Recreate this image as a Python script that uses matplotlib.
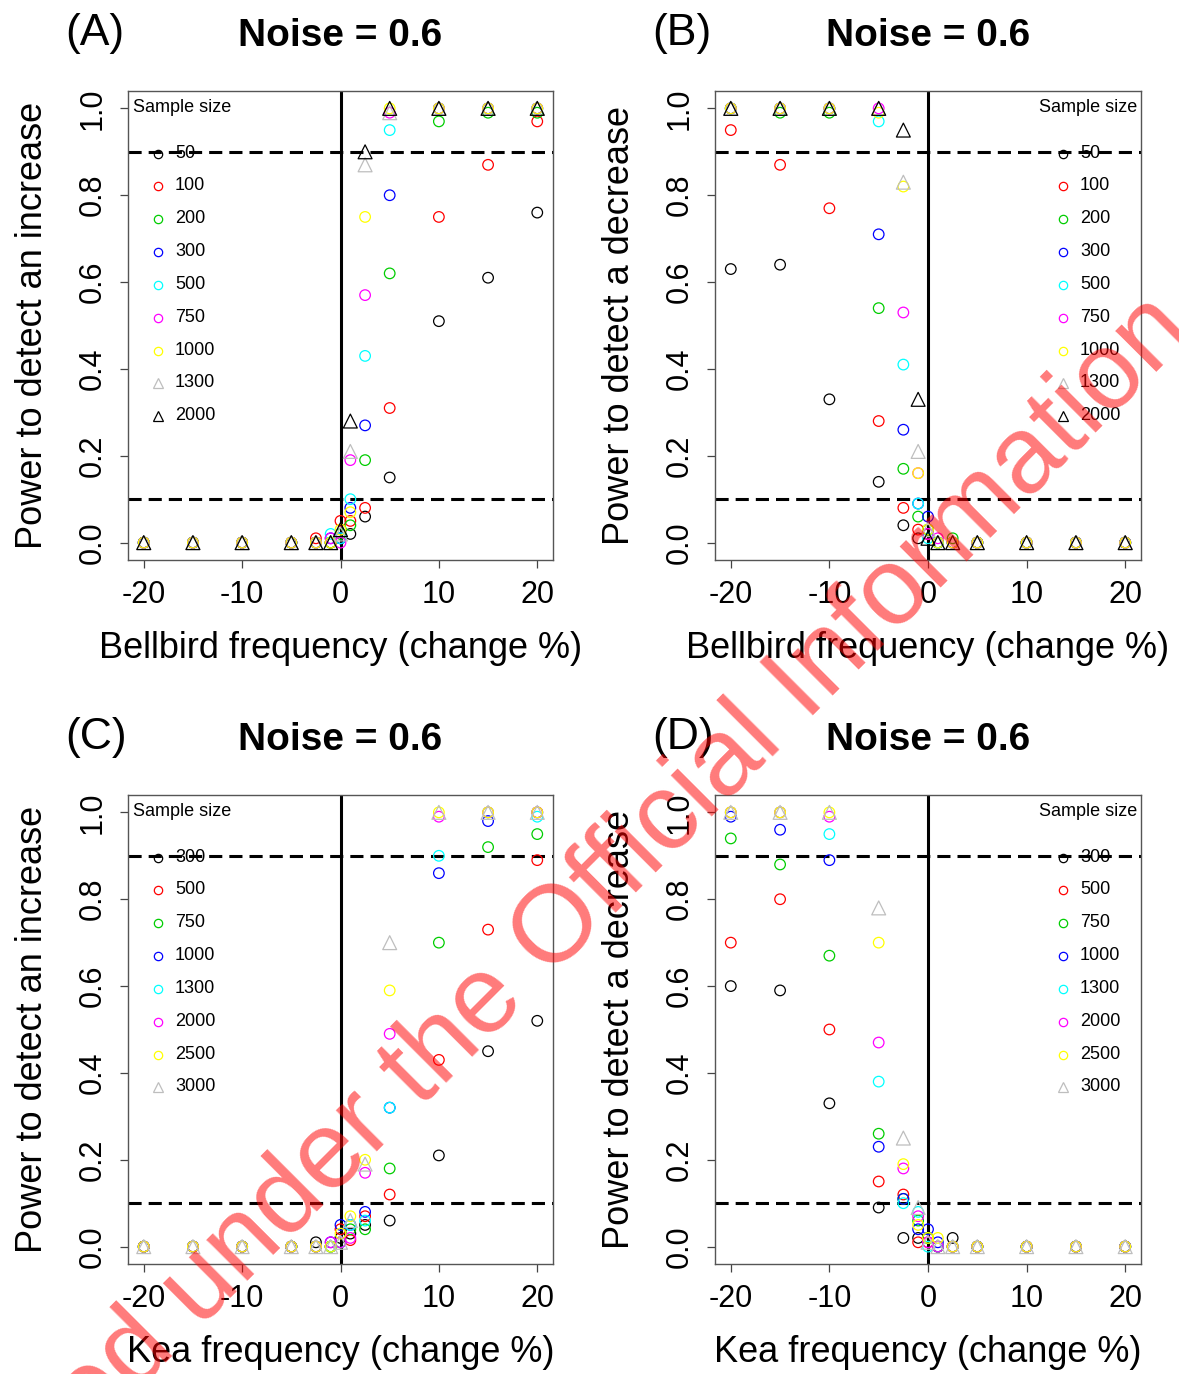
import matplotlib
matplotlib.use("Agg")
import matplotlib.pyplot as plt
from matplotlib.lines import Line2D

plt.rcParams['font.family'] = ['Liberation Sans', 'DejaVu Sans']

# ---------------- data ----------------
x_change = [-20, -15, -10, -5, -2.5, -1, 0, 1, 2.5, 5, 10, 15, 20]

bell_sizes = ["50", "100", "200", "300", "500", "750", "1000", "1300", "2000"]
kea_sizes = ["300", "500", "750", "1000", "1300", "2000", "2500", "3000"]

# Panel A: Bellbird, power to detect an increase
bell_inc = {
    "50":   [0, 0, 0, 0, 0, 0, 0.01, 0.02, 0.06, 0.15, 0.51, 0.61, 0.76],
    "100":  [0, 0, 0, 0, 0.01, 0, 0.05, 0.05, 0.08, 0.31, 0.75, 0.87, 0.97],
    "200":  [0, 0, 0, 0, 0, 0, 0.02, 0.04, 0.19, 0.62, 0.97, 0.99, 0.99],
    "300":  [0, 0, 0, 0, 0, 0.01, 0.01, 0.08, 0.27, 0.80, 1, 1, 1],
    "500":  [0, 0, 0, 0, 0, 0.02, 0.01, 0.10, 0.43, 0.95, 1, 1, 1],
    "750":  [0, 0, 0, 0, 0, 0.01, 0.0, 0.19, 0.57, 0.99, 1, 1, 1],
    "1000": [0, 0, 0, 0, 0, 0, 0.03, 0.07, 0.75, 1, 1, 1, 1],
    "1300": [0, 0, 0, 0, 0, 0, 0.02, 0.21, 0.87, 0.99, 1, 1, 1],
    "2000": [0, 0, 0, 0, 0, 0, 0.03, 0.28, 0.90, 1, 1, 1, 1],
}

# Panel B: Bellbird, power to detect a decrease
bell_dec = {
    "50":   [0.63, 0.64, 0.33, 0.14, 0.04, 0.01, 0.02, 0, 0, 0, 0, 0, 0],
    "100":  [0.95, 0.87, 0.77, 0.28, 0.08, 0.03, 0.02, 0, 0, 0, 0, 0, 0],
    "200":  [1, 0.99, 0.99, 0.54, 0.17, 0.06, 0.03, 0, 0.01, 0, 0, 0, 0],
    "300":  [1, 1, 1, 0.71, 0.26, 0.09, 0.06, 0, 0, 0, 0, 0, 0],
    "500":  [1, 1, 1, 0.97, 0.41, 0.09, 0.01, 0, 0, 0, 0, 0, 0],
    "750":  [1, 1, 1, 1, 0.53, 0.16, 0.02, 0.01, 0, 0, 0, 0, 0],
    "1000": [1, 1, 1, 0.99, 0.82, 0.16, 0.03, 0, 0, 0, 0, 0, 0],
    "1300": [1, 1, 1, 1, 0.83, 0.21, 0.03, 0, 0, 0, 0, 0, 0],
    "2000": [1, 1, 1, 1, 0.95, 0.33, 0.01, 0, 0, 0, 0, 0, 0],
}

# Panel C: Kea, power to detect an increase
kea_inc = {
    "300":  [0, 0, 0, 0, 0.01, 0, 0.02, 0.03, 0.05, 0.06, 0.21, 0.45, 0.52],
    "500":  [0, 0, 0, 0, 0, 0, 0.04, 0.015, 0.07, 0.12, 0.43, 0.73, 0.89],
    "750":  [0, 0, 0, 0, 0, 0, 0.01, 0.04, 0.04, 0.18, 0.70, 0.92, 0.95],
    "1000": [0, 0, 0, 0, 0, 0.01, 0.05, 0.05, 0.08, 0.32, 0.86, 0.98, 1],
    "1300": [0, 0, 0, 0, 0, 0, 0.01, 0.05, 0.06, 0.32, 0.90, 1, 0.99],
    "2000": [0, 0, 0, 0, 0, 0.01, 0.01, 0.02, 0.17, 0.49, 0.99, 1, 1],
    "2500": [0, 0, 0, 0, 0, 0, 0.03, 0.07, 0.20, 0.59, 1, 1, 1],
    "3000": [0, 0, 0, 0, 0, 0, 0.01, 0.06, 0.19, 0.70, 1, 1, 1],
}

# Panel D: Kea, power to detect a decrease
kea_dec = {
    "300":  [0.60, 0.59, 0.33, 0.09, 0.02, 0.02, 0.02, 0, 0.02, 0, 0, 0, 0],
    "500":  [0.70, 0.80, 0.50, 0.15, 0.12, 0.01, 0.01, 0, 0, 0, 0, 0, 0],
    "750":  [0.94, 0.88, 0.67, 0.26, 0.11, 0.06, 0.02, 0, 0, 0, 0, 0, 0],
    "1000": [0.99, 0.96, 0.89, 0.23, 0.11, 0.04, 0.04, 0.01, 0, 0, 0, 0, 0],
    "1300": [1, 1, 0.95, 0.38, 0.10, 0.08, 0.0, 0, 0, 0, 0, 0, 0],
    "2000": [1, 1, 0.99, 0.47, 0.18, 0.07, 0.01, 0.0, 0, 0, 0, 0, 0],
    "2500": [1, 1, 1, 0.70, 0.19, 0.05, 0.02, 0.02, 0, 0, 0, 0, 0],
    "3000": [1, 1, 1, 0.78, 0.25, 0.09, 0.01, 0, 0, 0, 0, 0, 0],
}

thresholds = [0.1, 0.9]
x_ticks = [-20, -10, 0, 10, 20]
y_ticks = [0.0, 0.2, 0.4, 0.6, 0.8, 1.0]
y_ticklabels = ["0.0", "0.2", "0.4", "0.6", "0.8", "1.0"]

# ---------------- styles ----------------
bell_colors = ["black", "#FF0000", "#00CD00", "#0000FF", "#00FFFF", "#FF00FF",
               "#FFFF00", "#BEBEBE", "black"]
bell_markers = ["o"] * 7 + ["^", "^"]
kea_colors = ["black", "#FF0000", "#00CD00", "#0000FF", "#00FFFF", "#FF00FF",
              "#FFFF00", "#BEBEBE"]
kea_markers = ["o"] * 7 + ["^"]

W, H = 1179, 1374
fig = plt.figure(figsize=(W / 100, H / 100), dpi=100)


def ax_rect(left, top, width=425, height=469):
    return [left / W, 1 - (top + height) / H, width / W, height / H]


panels = [
    dict(rect=ax_rect(128, 91), data=bell_inc, sizes=bell_sizes, colors=bell_colors,
         markers=bell_markers, tag="(A)", xlabel="Bellbird frequency (change %)",
         ylabel="Power to detect an increase", legend_side="left"),
    dict(rect=ax_rect(715, 91, 426), data=bell_dec, sizes=bell_sizes, colors=bell_colors,
         markers=bell_markers, tag="(B)", xlabel="Bellbird frequency (change %)",
         ylabel="Power to detect a decrease", legend_side="right"),
    dict(rect=ax_rect(128, 795), data=kea_inc, sizes=kea_sizes, colors=kea_colors,
         markers=kea_markers, tag="(C)", xlabel="Kea frequency (change %)",
         ylabel="Power to detect an increase", legend_side="left"),
    dict(rect=ax_rect(715, 795, 426), data=kea_dec, sizes=kea_sizes, colors=kea_colors,
         markers=kea_markers, tag="(D)", xlabel="Kea frequency (change %)",
         ylabel="Power to detect a decrease", legend_side="right"),
]

for p in panels:
    ax = fig.add_axes(p["rect"])
    ax.set_xlim(-21.6, 21.6)
    ax.set_ylim(-0.04, 1.04)
    for th in thresholds:
        ax.axhline(th, color="black", lw=2.2, ls=(0, (4.3, 2.3)), zorder=2)
    ax.axvline(0, color="black", lw=2.2, zorder=2)
    for name, col, mk in zip(p["sizes"], p["colors"], p["markers"]):
        ms = 100 if mk == "^" else 58
        ax.scatter(x_change, p["data"][name], marker=mk, s=ms, facecolors="none",
                   edgecolors=col, linewidths=0.9, zorder=3)
    ax.set_xticks(x_ticks)
    ax.set_xticklabels([str(v) for v in x_ticks])
    ax.set_yticks(y_ticks)
    ax.set_yticklabels(y_ticklabels, rotation=90, va="center")
    ax.tick_params(axis="both", labelsize=22, length=5.5, width=0.9, color="#444444",
                   direction="out")
    ax.tick_params(axis="x", pad=9)
    ax.tick_params(axis="y", pad=9)
    for sp in ax.spines.values():
        sp.set_color("#555555")
        sp.set_linewidth(1.0)
    ax.set_xlabel(p["xlabel"], fontsize=26, labelpad=15)
    ax.set_ylabel(p["ylabel"], fontsize=26, labelpad=20)

    # legend (no box), R style
    axw = p["rect"][2] * W
    axh = p["rect"][3] * H
    row_px = [61, 93, 126, 159, 192, 225, 258, 290, 323]
    if p["legend_side"] == "left":
        ax.text(5 / axw, 1 - 16 / axh, "Sample size", transform=ax.transAxes,
                fontsize=13, ha="left", va="center")
        mx, tx = 30 / axw, 47 / axw
    else:
        ax.text(1 - 4 / axw, 1 - 16 / axh, "Sample size", transform=ax.transAxes,
                fontsize=13, ha="right", va="center")
        mx, tx = 348 / axw, 365 / axw
    for name, col, mk, rp in zip(p["sizes"], p["colors"], p["markers"], row_px):
        yy = 1 - (rp + 1.5) / axh
        ms = 7.5 if mk == "^" else 6
        ax.add_line(Line2D([mx], [yy], transform=ax.transAxes, marker=mk, ms=ms,
                           mfc="none", mec=col, mew=0.9, ls="none", zorder=4))
        ax.text(tx, yy, name, transform=ax.transAxes, fontsize=13, ha="left",
                va="center", zorder=4)

    # panel tag and title
    cx = p["rect"][0] + p["rect"][2] / 2
    top = p["rect"][1] + p["rect"][3]
    fig.text(cx, top + 55 / H, "Noise = 0.6", fontsize=28, fontweight="bold",
             ha="center", va="center")
    fig.text(p["rect"][0] - 63 / W, top + 58 / H, p["tag"], fontsize=32,
             ha="left", va="center")

# watermark
fig.text(-150 / W, 1 - 1678 / H, "Released under the Official Information Act 1982",
         fontsize=79, color="#FF0000", alpha=0.52, rotation=45, rotation_mode="anchor",
         ha="left", va="baseline", zorder=10)

fig.savefig("out.png", dpi=100)
